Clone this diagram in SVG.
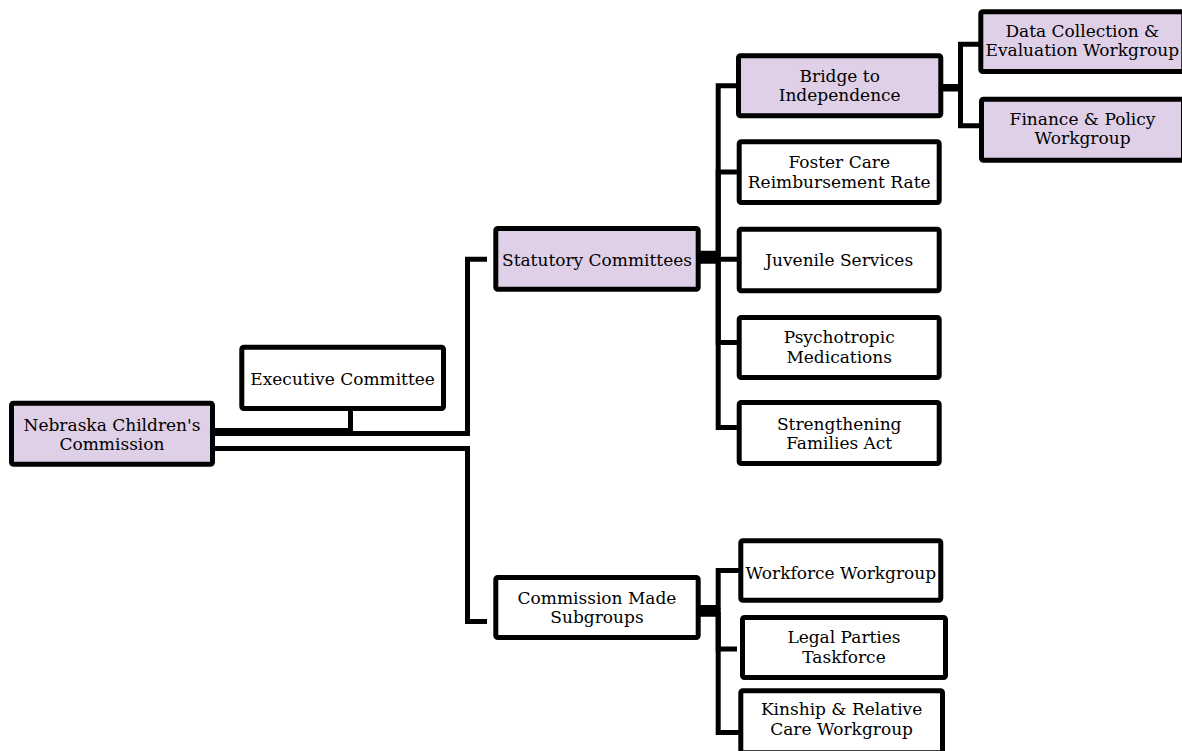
<svg xmlns="http://www.w3.org/2000/svg" width="1182" height="751" viewBox="0 0 1182 751">
<style>
.box{stroke:#000;stroke-width:5;rx:2;ry:2}
.hl{fill:#dfd0e7}
.pl{fill:#fff}
.t{font-family:"DejaVu Serif","Liberation Serif",serif;font-size:17px;fill:#000;text-anchor:middle}
.c{fill:none;stroke:#000;stroke-width:5;stroke-linejoin:miter;stroke-linecap:butt}
</style>
<rect width="1182" height="751" fill="#fff"/>
<g id="connectors">
<path class="c" d="M215 430.5H350.5V411"/>
<path class="c" d="M215 433.5H467.5V259.2H487"/>
<path class="c" d="M215 448.5H467.5V621.5H487"/>
<path class="c" d="M700 253.2H718.2V85.8H737"/>
<path class="c" d="M700 255.5H718.2V172H737"/>
<path class="c" d="M700 259.2H737"/>
<path class="c" d="M700 261H718.2V342.5H737"/>
<path class="c" d="M700 261H718.2V427.5H737"/>
<path class="c" d="M943 86.5H960.5V44.2H980"/>
<path class="c" d="M943 89H960.5V125.8H980"/>
<path class="c" d="M700 607.5H718.2V570.5H740"/>
<path class="c" d="M700 611H718.2V649H737"/>
<path class="c" d="M700 614.2H718.2V732.5H740"/>
</g>
<g id="nebraska">
<rect class="box hl" x="11.5" y="403.2" width="201" height="61"/>
<text class="t" x="112" y="430.7">Nebraska Children's</text>
<text class="t" x="112" y="450">Commission</text>
</g>
<g id="executive">
<rect class="box pl" x="241.8" y="347.2" width="201.7" height="61.3"/>
<text class="t" x="342.6" y="385">Executive Committee</text>
</g>
<g id="statutory">
<rect class="box hl" x="495.8" y="228.5" width="202.4" height="60.7"/>
<text class="t" x="597" y="266.3">Statutory Committees</text>
</g>
<g id="commission">
<rect class="box pl" x="495.8" y="577.5" width="202.4" height="60"/>
<text class="t" x="597" y="604">Commission Made</text>
<text class="t" x="597" y="622.8">Subgroups</text>
</g>
<g id="bridge">
<rect class="box hl" x="738.5" y="55.8" width="202.3" height="60"/>
<text class="t" x="839.7" y="81.8">Bridge to</text>
<text class="t" x="839.7" y="100.8">Independence</text>
</g>
<g id="datacollection">
<rect class="box hl" x="980.8" y="11.8" width="203" height="59.7"/>
<text class="t" x="1082.3" y="36.7">Data Collection &amp;</text>
<text class="t" x="1082.3" y="55.5">Evaluation Workgroup</text>
</g>
<g id="finance">
<rect class="box hl" x="981.5" y="99.2" width="202" height="61"/>
<text class="t" x="1082.5" y="125">Finance &amp; Policy</text>
<text class="t" x="1082.5" y="144">Workgroup</text>
</g>
<g id="foster">
<rect class="box pl" x="739.2" y="141.8" width="200" height="60.7"/>
<text class="t" x="839.2" y="168.3">Foster Care</text>
<text class="t" x="839.2" y="188.3">Reimbursement Rate</text>
</g>
<g id="juvenile">
<rect class="box pl" x="739.2" y="229.2" width="200" height="61.6"/>
<text class="t" x="839.2" y="266">Juvenile Services</text>
</g>
<g id="psychotropic">
<rect class="box pl" x="739.2" y="317.5" width="200" height="60"/>
<text class="t" x="839.2" y="343.3">Psychotropic</text>
<text class="t" x="839.2" y="362.7">Medications</text>
</g>
<g id="strengthening">
<rect class="box pl" x="739.2" y="402.5" width="200" height="61"/>
<text class="t" x="839.2" y="430">Strengthening</text>
<text class="t" x="839.2" y="449.3">Families Act</text>
</g>
<g id="workforce">
<rect class="box pl" x="740.8" y="540.8" width="200" height="59.4"/>
<text class="t" x="840.8" y="579">Workforce Workgroup</text>
</g>
<g id="legal">
<rect class="box pl" x="742.5" y="617.5" width="203" height="60"/>
<text class="t" x="844" y="643.3">Legal Parties</text>
<text class="t" x="844" y="662.7">Taskforce</text>
</g>
<g id="kinship">
<rect class="box pl" x="740.8" y="690.8" width="201.7" height="62"/>
<text class="t" x="841.6" y="715">Kinship &amp; Relative</text>
<text class="t" x="841.6" y="735">Care Workgroup</text>
</g>
</svg>
